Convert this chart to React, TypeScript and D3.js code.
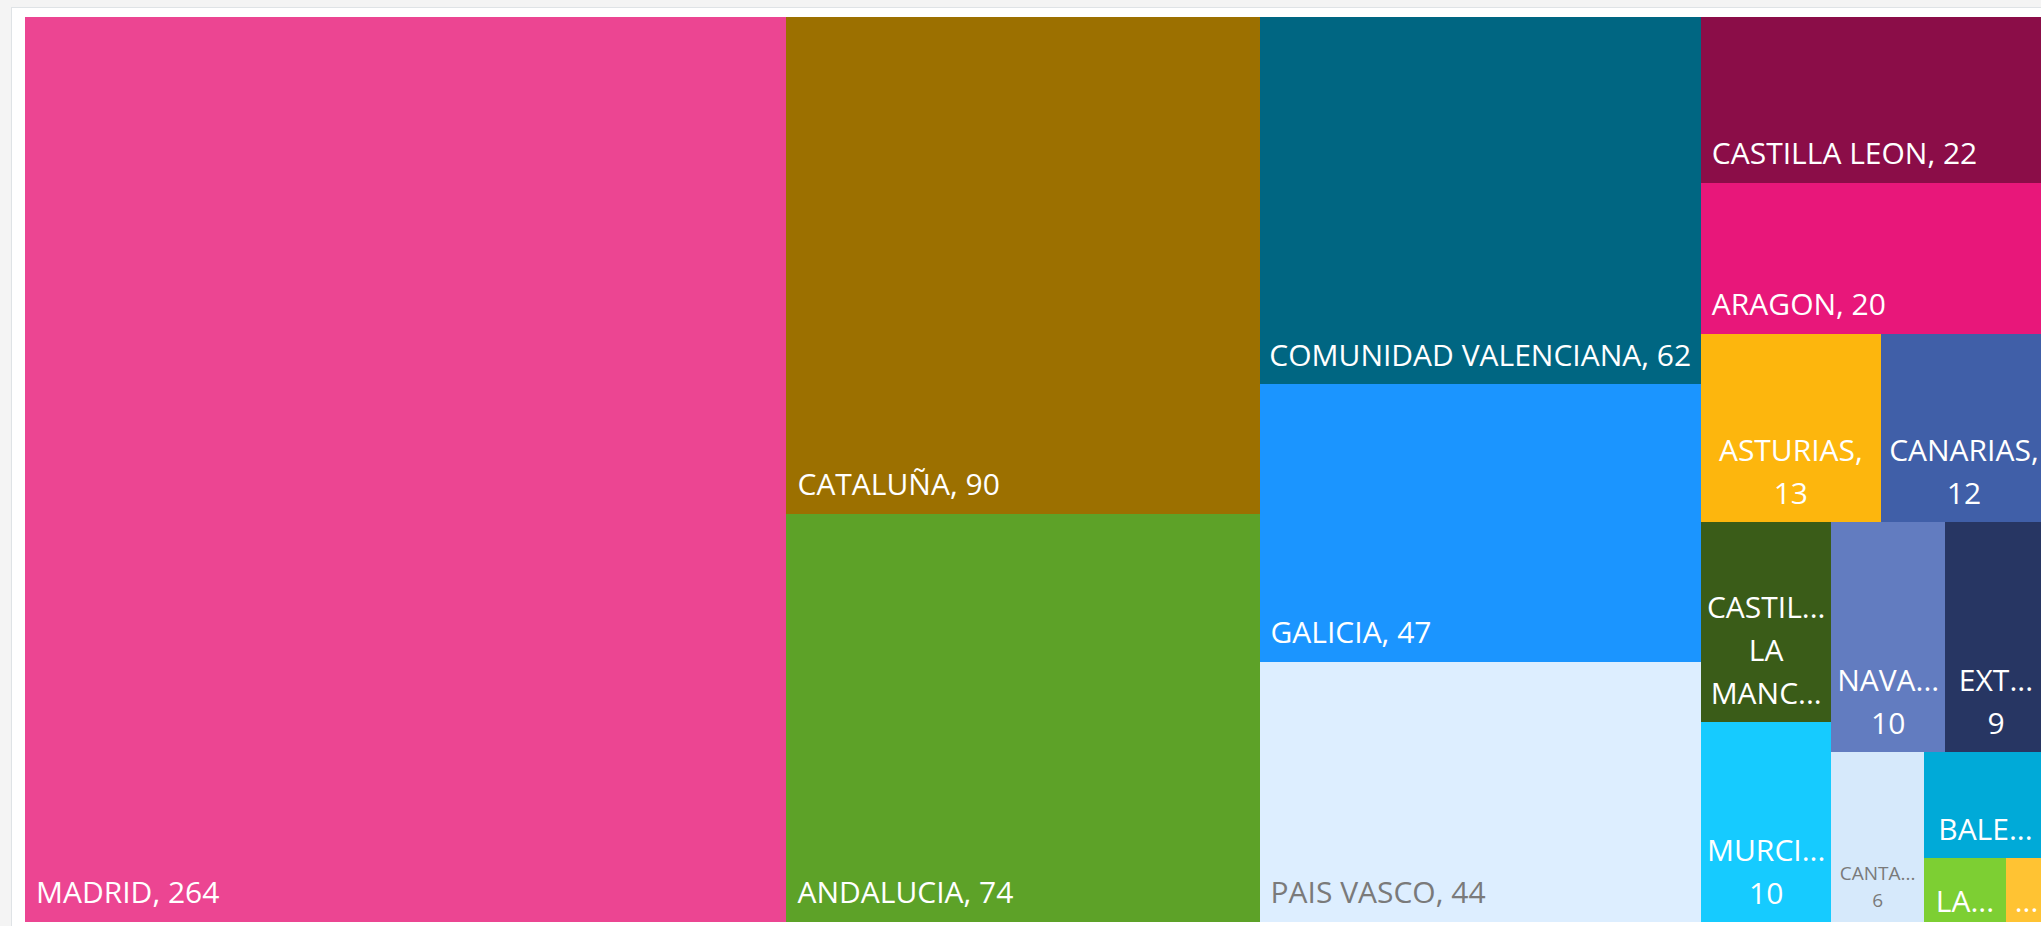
import React, { useEffect, useRef } from 'react';
import * as d3 from 'd3';

const WIDTH = 2041;
const HEIGHT = 926;
const margin = { top: 17, left: 25 };
const mapWidth = 2022;
const mapHeight = 905;

// regions with their counts, as labelled in the picture
const regions = [
  'MADRID', 'CATALUÑA', 'ANDALUCIA', 'COMUNIDAD VALENCIANA', 'GALICIA', 'PAIS VASCO',
  'CASTILLA LEON', 'ARAGON', 'ASTURIAS', 'CANARIAS', 'CASTILLA LA MANCHA', 'MURCIA',
  'NAVARRA', 'EXTREMADURA', 'CANTABRIA', 'BALEARES', 'LA RIOJA', 'MELILLA',
];
const counts = [264, 90, 74, 62, 47, 44, 22, 20, 13, 12, 10, 10, 10, 9, 6, 5, 2, 1];
const colors = [
  '#ec4592', '#9c7000', '#5da228', '#006682', '#1b95ff', '#ddeeff',
  '#8b0d48', '#e8177a', '#fdb60d', '#405fa8', '#3a5c18', '#16cbff',
  '#627cc0', '#273663', '#d6e9fb', '#00aad8', '#7dcf33', '#ffc333',
];

// nesting of the tiles (indices into regions), columns then rows, like the picture
const groups: any[] = [[0], [1, 2], [3, 4, 5], [6, 7, [8, 9], [[10, 11], [[12, 13], [14, [15, [16, 17]]]]]]];

function toNode(g: any): any {
  if (typeof g === 'number') return { name: regions[g], value: counts[g], color: colors[g] };
  return { children: g.map(toNode) };
}

function App() {
  const svgRef = useRef<SVGSVGElement>(null);

  useEffect(() => {
    const font = '"Open Sans", "Noto Sans", sans-serif';
    const ctx = document.createElement('canvas').getContext('2d')!;
    const measure = (s: string, fs: number) => {
      ctx.font = `${fs}px ${font}`;
      return ctx.measureText(s).width;
    };

    const draw = () => {
      const svg = d3.select(svgRef.current);
      svg.selectAll('*').remove();

      svg.append('rect').attr('width', WIDTH).attr('height', HEIGHT).attr('fill', '#f4f4f4');
      svg.append('rect')
        .attr('x', 11.5).attr('y', 7.5)
        .attr('width', WIDTH).attr('height', HEIGHT)
        .attr('fill', '#fff').attr('stroke', '#dfe3e6');

      const root = d3.hierarchy(toNode(groups)).sum((d: any) => d.value || 0);
      d3.treemap().tile(d3.treemapSliceDice).size([mapWidth, mapHeight])(root as any);

      const g = svg.append('g').attr('transform', `translate(${margin.left},${margin.top})`);
      const leaves: any[] = root.leaves();

      g.selectAll('rect.cell')
        .data(leaves)
        .join('rect')
        .attr('class', 'cell')
        .attr('x', d => d.x0)
        .attr('y', d => d.y0)
        .attr('width', d => d.x1 - d.x0)
        .attr('height', d => d.y1 - d.y0)
        .attr('fill', d => d.data.color)
        .attr('shape-rendering', 'crispEdges');

      leaves.forEach(d => {
        const w = d.x1 - d.x0;
        const h = d.y1 - d.y0;
        const light = d3.hsl(d.data.color).l > 0.8;
        const small = light && w < 110;
        const fs = small ? 19 : 30;
        const lineH = small ? 27 : 43;
        const fill = light ? '#7a7a7a' : '#ffffff';
        const full = `${d.data.name}, ${d.data.value}`;
        const t = g.append('text')
          .attr('font-family', font)
          .attr('font-size', fs)
          .attr('fill', fill);

        // fits comfortably on one line: bottom-left
        if (measure(full, fs) <= w * 0.8) {
          t.attr('x', d.x0 + 11).attr('y', d.y1 - 19).text(full);
          return;
        }

        // otherwise wrap word by word, centred, cutting long words
        const maxW = w - 10;
        const fit = (word: string) => {
          if (measure(word, fs) <= maxW) return word;
          for (let k = word.length - 1; k > 0; k--) {
            const s = word.slice(0, k).trimEnd() + '...';
            if (measure(s, fs) <= maxW) return s;
          }
          return '...';
        };
        const maxLines = Math.min(3, Math.max(1, Math.floor((h - 25) / lineH)));
        let lines: string[] = [];
        if (maxLines === 1) {
          lines = [fit(full)];
        } else {
          full.split(' ').forEach(word => {
            const last = lines.length - 1;
            if (last >= 0 && !lines[last].endsWith('...') && measure(lines[last] + ' ' + word, fs) <= maxW) {
              lines[last] += ' ' + word;
            } else {
              lines.push(fit(word));
            }
          });
        }
        const shown = lines.slice(0, maxLines);
        const bottom = h > 100 ? (light ? 15 : 18) : 10;
        t.attr('text-anchor', 'middle');
        shown.forEach((line, i) => {
          t.append('tspan')
            .attr('x', d.x0 + w / 2)
            .attr('y', d.y1 - bottom - (shown.length - 1 - i) * lineH)
            .text(line);
        });
      });
    };

    // measure only once the label font is really there
    document.fonts.load('30px "Open Sans"').then(draw, draw);
  }, []);

  return (
    <svg ref={svgRef} width={WIDTH} height={HEIGHT}
      style={{ position: 'absolute', left: 0, top: 0, display: 'block' }} />
  );
}

export default App;
